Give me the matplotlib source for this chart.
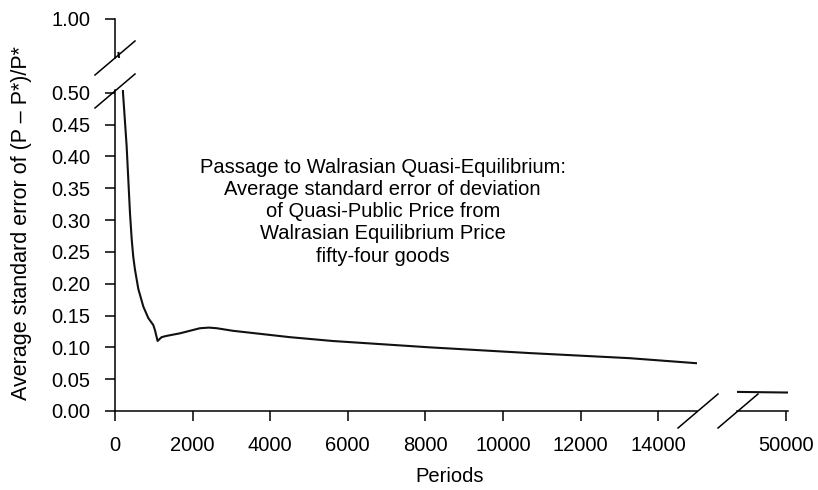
import matplotlib
matplotlib.use("Agg")
import matplotlib.pyplot as plt
from matplotlib.lines import Line2D

plt.rcParams['font.family'] = ['Liberation Sans', 'DejaVu Sans']

# curve values
periods = [90, 206, 300, 386, 430, 471, 515, 600, 730, 858, 987, 1030, 1098, 1201, 1330,
           1673, 2188, 2420, 2625, 3037, 4504, 5600, 8108, 10682, 13256, 15000]
errors = [0.774, 0.500, 0.416, 0.311, 0.270, 0.242, 0.222, 0.192, 0.164, 0.146, 0.135,
          0.127, 0.110, 0.116, 0.118, 0.122, 0.130, 0.131, 0.130, 0.126, 0.116, 0.110,
          0.100, 0.091, 0.083, 0.075]

late_periods = [48700, 50050]
late_errors = [0.030, 0.029]

xticks = [0, 2000, 4000, 6000, 8000, 10000, 12000, 14000]
yticks = [0.00, 0.05, 0.10, 0.15, 0.20, 0.25, 0.30, 0.35, 0.40, 0.45, 0.50]

note = ("Passage to Walrasian Quasi-Equilibrium:\n"
        "Average standard error of deviation\n"
        "of Quasi-Public Price from\n"
        "Walrasian Equilibrium Price\n"
        "fifty-four goods")

W, H = 818, 490
FS = 14.5
LW = 1.1


def box(x0, y0, x1, y1):
    # pixel box (top-left origin) -> figure fraction rect
    return [x0 / W, 1 - y1 / H, (x1 - x0) / W, (y1 - y0) / H]


def slash(fig, xc, yc):
    # little diagonal break mark centred on a pixel point
    fig.add_artist(Line2D([(xc - 20) / W, (xc + 20) / W],
                          [1 - (yc + 17) / H, 1 - (yc - 17) / H],
                          color='black', lw=LW, transform=fig.transFigure))


fig = plt.figure(figsize=(W / 100, H / 100), dpi=100)

ax = fig.add_axes(box(115, 89.5, 697, 411))
ax_top = fig.add_axes(box(115, 19, 697, 58))
ax_r = fig.add_axes(box(737, 89.5, 788, 411))

for a in (ax, ax_top, ax_r):
    a.plot(periods if a is not ax_r else late_periods,
           errors if a is not ax_r else late_errors,
           color='#111111', lw=1.5)
    for s in a.spines.values():
        s.set_linewidth(LW)
    a.spines['top'].set_visible(False)
    a.spines['right'].set_visible(False)
    a.tick_params(direction='out', length=7, width=LW, labelsize=FS)
    a.patch.set_alpha(0)

ax.set_xlim(0, 15000)
ax.set_ylim(0, 0.505)
ax.set_xticks(xticks)
ax.set_yticks(yticks)
ax.set_yticklabels([f"{v:.2f}" for v in yticks])
ax.tick_params(axis='y', pad=11)
ax.tick_params(axis='x', pad=11)

ax_top.set_xlim(0, 15000)
ax_top.set_ylim(0.74, 1.0)
ax_top.spines['bottom'].set_visible(False)
ax_top.set_xticks([])
ax_top.set_yticks([1.0])
ax_top.set_yticklabels(["1.00"])
ax_top.tick_params(axis='y', pad=11)

ax_r.set_xlim(48700, 50050)
ax_r.set_ylim(0, 0.505)
ax_r.spines['left'].set_visible(False)
ax_r.set_yticks([])
ax_r.set_xticks([50000])
ax_r.tick_params(axis='x', pad=11)

ax.text(0.46, 0.62, note, transform=ax.transAxes, ha='center', va='center',
        fontsize=FS, linespacing=1.22)

fig.text(450 / W, 1 - 476 / H, "Periods", ha='center', va='center', fontsize=FS)
fig.text(22 / W, 1 - 223 / H, "Average standard error of (P \u2013 P*)/P*",
         rotation=90, ha='center', va='center', fontsize=15.5)

slash(fig, 115, 58)
slash(fig, 115, 91)
slash(fig, 698, 411)
slash(fig, 738, 411)

fig.savefig("out.png", dpi=100)
